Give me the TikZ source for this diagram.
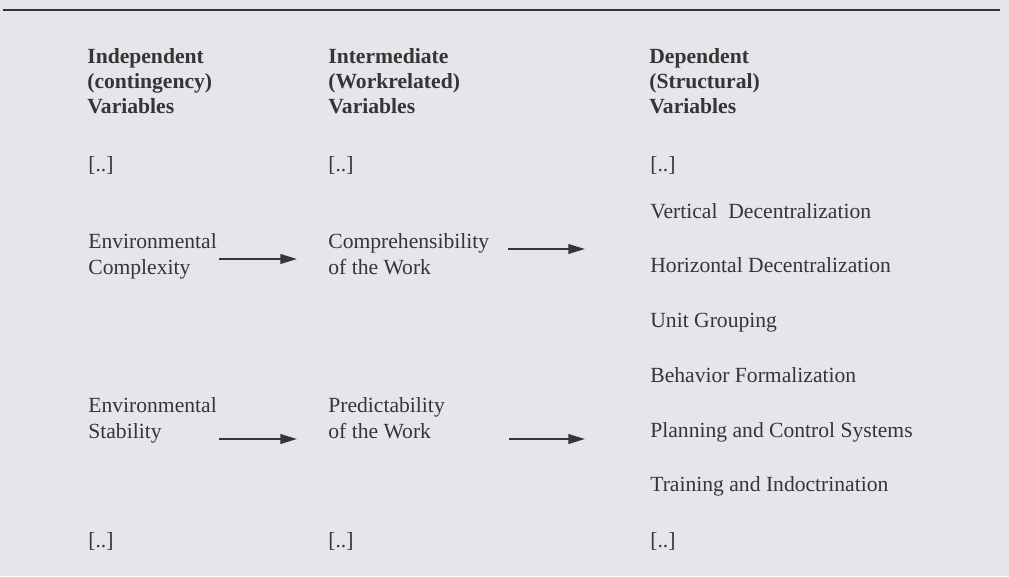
\documentclass[tikz,border=0pt]{standalone}
\usepackage{fontspec}
\setmainfont{Liberation Serif}
\usetikzlibrary{arrows.meta}
\definecolor{paper}{HTML}{E5E6EA}
\definecolor{ink}{HTML}{353535}

\begin{document}
\begin{tikzpicture}[x=0.02cm, y=-0.02cm, every node/.style={anchor=base west, inner sep=0pt, text=ink, align=left, font=\fontsize{12.3}{14.7}\selectfont}, head/.style={font=\fontsize{12.3}{14.2}\selectfont\bfseries}, link/.style={draw=ink, line width=1.1pt, -{Triangle[length=9.5pt, width=5.5pt]}}]
  \fill[paper] (0,0) rectangle (1009,576);
  \draw[ink, line width=1.2pt] (3,10) -- (1000,10);
  \node[head] (ind) at (87,113) {Independent\\(contingency)\\Variables};
  \node[head] (int) at (328,113) {Intermediate\\(Workrelated)\\Variables};
  \node[head] (dep) at (649,113) {Dependent\\(Structural)\\Variables};
  \node (ia) at (88,171) {[..]};
  \node (ma) at (328,171) {[..]};
  \node (da) at (650,171) {[..]};
  \node (ec) at (88,274) {Environmental\\Complexity};
  \node (cw) at (328,274) {Comprehensibility\\of the Work};
  \node (es) at (88,438) {Environmental\\Stability};
  \node (pw) at (328,438) {Predictability\\of the Work};
  \node (vd) at (650,218) {Vertical\ \ Decentralization};
  \node (hd) at (650,272) {Horizontal Decentralization};
  \node (ug) at (650,327) {Unit Grouping};
  \node (bf) at (650,382) {Behavior Formalization};
  \node (pc) at (650,437) {Planning and Control Systems};
  \node (ti) at (650,491) {Training and Indoctrination};
  \node (iz) at (88,547) {[..]};
  \node (mz) at (328,547) {[..]};
  \node (dz) at (650,547) {[..]};
  \draw[link] ([shift={(2,-15)}]ec.base east) -- ([shift={(-31,-15)}]cw.base west);
  \draw[link] ([shift={(18,-25)}]cw.base east) -- ([shift={(-65,-23)}]hd.base west);
  \draw[link] ([shift={(2,1)}]es.base east) -- ([shift={(-31,1)}]pw.base west);
  \draw[link] ([shift={(64,1)}]pw.base east) -- ([shift={(-65,2)}]pc.base west);
\end{tikzpicture}
\end{document}
